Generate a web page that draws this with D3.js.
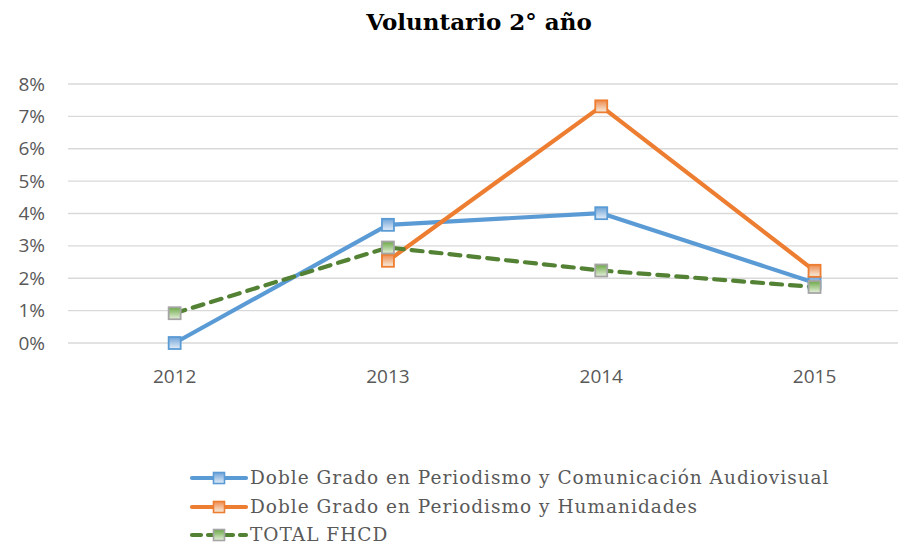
<!DOCTYPE html>
<html>
<head>
<meta charset="utf-8">
<script src="https://cdn.jsdelivr.net/npm/d3@7"></script>
<style>
  html, body { margin: 0; padding: 0; background: #fff; }
  svg { display: block; }
</style>
</head>
<body>
<svg id="chart" width="898" height="544"></svg>
<script>
// Years on the x axis
const years = ["2012", "2013", "2014", "2015"];
// Share of students (%) per year
const comunicacionAudiovisual = [0.0, 3.65, 4.01, 1.86];
const humanidades = [null, 2.54, 7.31, 2.23];
const totalFHCD = [0.92, 2.95, 2.24, 1.73];
const seriesNames = [
  "Doble Grado en Periodismo y Comunicación Audiovisual",
  "Doble Grado en Periodismo y Humanidades",
  "TOTAL FHCD"
];
const yTicks = [0, 1, 2, 3, 4, 5, 6, 7, 8];

const series = [
  { name: seriesNames[0], values: comunicacionAudiovisual, line: "#5b9bd5", border: "#5b9bd5", top: "#6fa3d8", bottom: "#e4eef8", dash: null, id: "gBlue" },
  { name: seriesNames[1], values: humanidades, line: "#ed7d31", border: "#ed7d31", top: "#ee8a4c", bottom: "#f6eee2", dash: null, id: "gOrange" },
  { name: seriesNames[2], values: totalFHCD, line: "#548235", border: "#a5a5a5", top: "#6aa845", bottom: "#e6f0dc", dash: "11,8", id: "gGreen" }
];

const svg = d3.select("#chart");
const margin = { left: 68, top: 84, bottom: 343 };
const plotRight = 68 + 4 * 213.3;

const x = d3.scaleBand().domain(years).range([margin.left, plotRight]);
const y = d3.scaleLinear().domain([0, 8]).range([margin.bottom, margin.top]);
const cx = d => x(d) + x.bandwidth() / 2;

// gradients for the square markers
const defs = svg.append("defs");
series.forEach(s => {
  const g = defs.append("linearGradient").attr("id", s.id)
    .attr("x1", 0).attr("y1", 0).attr("x2", 0).attr("y2", 1);
  g.append("stop").attr("offset", "0%").attr("stop-color", s.top);
  g.append("stop").attr("offset", "100%").attr("stop-color", s.bottom);
});

// title
svg.append("text")
  .attr("x", 479).attr("y", 30)
  .attr("text-anchor", "middle")
  .attr("font-family", "'DejaVu Serif', serif")
  .attr("font-weight", "bold")
  .attr("font-size", 23)
  .attr("fill", "#000")
  .text("Voluntario 2° año");

// horizontal gridlines
svg.append("g").selectAll("line").data(yTicks).join("line")
  .attr("x1", margin.left).attr("x2", plotRight)
  .attr("y1", d => y(d)).attr("y2", d => y(d))
  .attr("stroke", "#d9d9d9").attr("stroke-width", 1.3);

const axisFont = "'Open Sans', 'Liberation Sans', sans-serif";

// y axis labels
const yAxis = d3.axisLeft(y).tickValues(yTicks).tickFormat(d => d + "%").tickSize(0).tickPadding(0);
const gy = svg.append("g").attr("transform", "translate(45,0)").call(yAxis);
gy.select(".domain").remove();
gy.selectAll("text")
  .attr("font-family", axisFont)
  .attr("font-size", 19).attr("fill", "#595959");

// x axis labels
const xAxis = d3.axisBottom(x).tickSize(0).tickPadding(0);
const gx = svg.append("g").attr("transform", "translate(0,369)").call(xAxis);
gx.select(".domain").remove();
gx.selectAll("text")
  .attr("font-family", axisFont)
  .attr("font-size", 19).attr("fill", "#595959");

// lines
const lineGen = d3.line()
  .defined(d => d.v !== null)
  .x(d => cx(d.year)).y(d => y(d.v));

series.forEach(s => {
  const pts = years.map((yr, i) => ({ year: yr, v: s.values[i] }));
  svg.append("path").datum(pts)
    .attr("d", lineGen)
    .attr("fill", "none")
    .attr("stroke", s.line)
    .attr("stroke-width", 4.2)
    .attr("stroke-linejoin", "round")
    .attr("stroke-linecap", "round")
    .attr("stroke-dasharray", s.dash);
});

// markers
const m = 12;
series.forEach(s => {
  const pts = years.map((yr, i) => ({ year: yr, v: s.values[i] })).filter(d => d.v !== null);
  svg.append("g").selectAll("rect").data(pts).join("rect")
    .attr("x", d => cx(d.year) - m / 2)
    .attr("y", d => y(d.v) - m / 2)
    .attr("width", m).attr("height", m)
    .attr("fill", `url(#${s.id})`)
    .attr("stroke", s.border)
    .attr("stroke-width", 1.8);
});

// legend
const legend = svg.append("g");
const legendY = [478, 507, 535];
series.forEach((s, i) => {
  const g = legend.append("g").attr("transform", `translate(0,${legendY[i]})`);
  g.append("line")
    .attr("x1", 192).attr("x2", 246).attr("y1", 0).attr("y2", 0)
    .attr("stroke", s.line).attr("stroke-width", 4.2)
    .attr("stroke-linecap", "round")
    .attr("stroke-dasharray", s.dash ? "9,7" : null);
  g.append("rect")
    .attr("x", 219 - 5.5).attr("y", -5.5).attr("width", 11).attr("height", 11)
    .attr("fill", `url(#${s.id})`).attr("stroke", s.border).attr("stroke-width", 1.6);
  g.append("text")
    .attr("x", 250).attr("y", 0).attr("dy", "0.35em")
    .attr("font-family", "'DejaVu Serif', serif")
    .attr("font-size", 18.5)
    .attr("letter-spacing", 1.0)
    .attr("fill", "#595959")
    .text(s.name);
});
</script>
</body>
</html>
